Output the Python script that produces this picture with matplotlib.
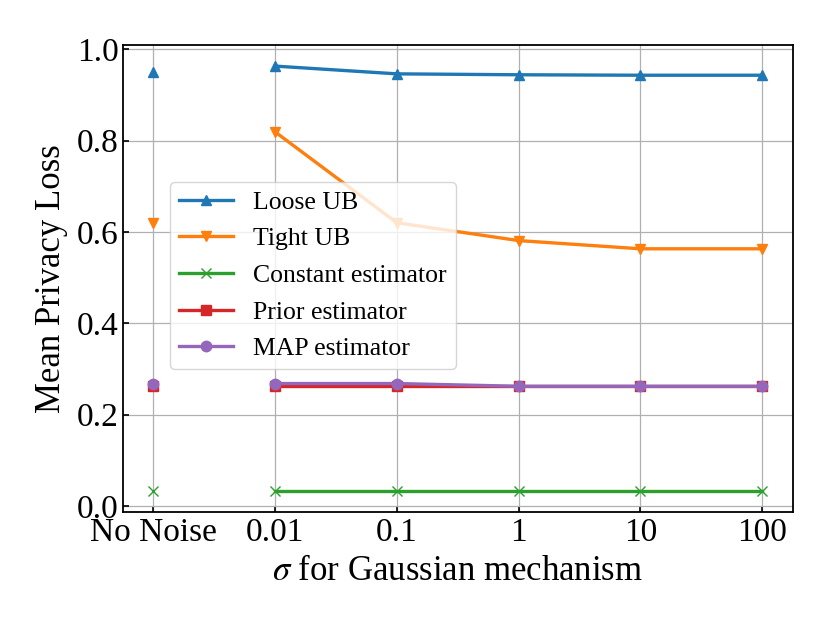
import matplotlib
matplotlib.use("Agg")
import matplotlib.pyplot as plt

plt.rcParams['font.family'] = ['Liberation Serif', 'DejaVu Serif']
plt.rcParams['mathtext.fontset'] = 'stix'

x_labels = ["No Noise", "0.01", "0.1", "1", "10", "100"]
loose_ub = [0.950, 0.963, 0.946, 0.944, 0.943, 0.943]
tight_ub = [0.620, 0.819, 0.620, 0.581, 0.563, 0.563]
constant_est = [0.033, 0.033, 0.033, 0.033, 0.033, 0.033]
prior_est = [0.263, 0.263, 0.263, 0.263, 0.263, 0.263]
map_est = [0.268, 0.268, 0.268, 0.262, 0.262, 0.262]

series = [
    ("Loose UB", loose_ub, "#1f77b4", "^"),
    ("Tight UB", tight_ub, "#ff7f0e", "v"),
    ("Constant estimator", constant_est, "#2ca02c", "x"),
    ("Prior estimator", prior_est, "#d62728", "s"),
    ("MAP estimator", map_est, "#9467bd", "o"),
]

fig = plt.figure(figsize=(8.3, 6.23), dpi=100)
ax = fig.add_axes([0.148, 0.178, 0.807, 0.75])
xs = list(range(len(x_labels)))
for name, vals, color, mk in series:
    ax.plot(xs[1:], vals[1:], color=color, marker=mk, lw=2.4, ms=7.5, label=name)
    ax.plot(xs[:1], vals[:1], color=color, marker=mk, lw=0, ms=7.5)

ax.set_xticks(xs)
ax.set_xticklabels(x_labels)
ax.tick_params(direction='in', labelsize=24, length=4, width=1.2, pad=4)
ax.tick_params(axis='y', pad=3)
ax.grid(True, color='#b0b0b0', lw=0.9)
for s in ax.spines.values():
    s.set_linewidth(1.3)
ax.set_ylabel("Mean Privacy Loss", fontsize=25, labelpad=6)
ax.set_xlabel(r"$\sigma$ for Gaussian mechanism", fontsize=25, labelpad=5)
ax.legend(loc='upper left', bbox_to_anchor=(0.07, 0.707), fontsize=18.5,
          handlelength=2.1, borderpad=0.35, labelspacing=0.53, borderaxespad=0)
fig.savefig("out.png", dpi=100)
